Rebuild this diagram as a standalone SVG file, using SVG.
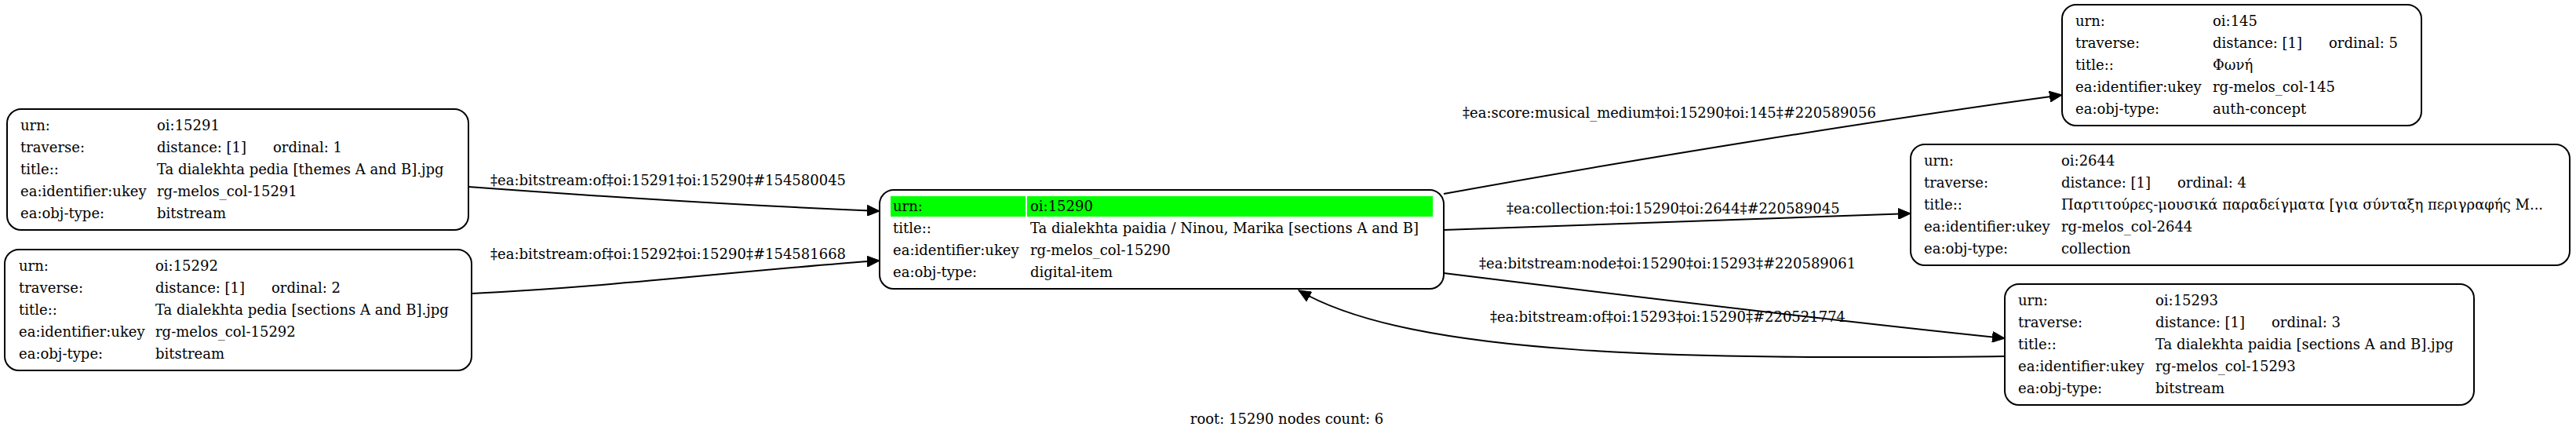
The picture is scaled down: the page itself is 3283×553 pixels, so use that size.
<svg xmlns="http://www.w3.org/2000/svg" width="3283" height="553" viewBox="0 0 3283 553">
<style>
text{font-family:"DejaVu Serif","Liberation Serif",serif;font-size:18px;fill:#000}
.box{fill:#fff;stroke:#000;stroke-width:2}
.edge{fill:none;stroke:#000;stroke-width:2}
.hl{fill:#00ff00}
</style>
<defs>
<marker id="arr" markerUnits="userSpaceOnUse" markerWidth="18" markerHeight="14" refX="16" refY="7" orient="auto">
<path d="M0,0 L16,7 L0,14 Z" fill="#000" stroke="#000" stroke-width="1"/>
</marker>
</defs>
<rect width="3283" height="553" fill="#fff"/>
<g id="edges">
<path class="edge" marker-end="url(#arr)" d="M597,238 C760,250 950,262 1121,269"/>
<text x="625" y="236">‡ea:bitstream:of‡oi:15291‡oi:15290‡#154580045</text>
<path class="edge" marker-end="url(#arr)" d="M601,374 C800,364 950,344 1121,332"/>
<text x="625" y="330">‡ea:bitstream:of‡oi:15292‡oi:15290‡#154581668</text>
<path class="edge" marker-end="url(#arr)" d="M1840,247 C2100,200 2400,152 2628,121"/>
<text x="1864" y="150">‡ea:score:musical_medium‡oi:15290‡oi:145‡#220589056</text>
<path class="edge" marker-end="url(#arr)" d="M1840,293 C2050,285 2250,278 2435,272"/>
<text x="1920" y="272">‡ea:collection:‡oi:15290‡oi:2644‡#220589045</text>
<path class="edge" marker-end="url(#arr)" d="M1840,348 C2100,380 2350,410 2555,431"/>
<text x="1885" y="342">‡ea:bitstream:node‡oi:15290‡oi:15293‡#220589061</text>
<path class="edge" marker-end="url(#arr)" d="M2555,454 C2150,458 1800,455 1655,370"/>
<text x="1899" y="410">‡ea:bitstream:of‡oi:15293‡oi:15290‡#220521774</text>
</g>
<g id="n15291">
<rect class="box" x="9" y="139" width="588" height="154" rx="18"/>
<text x="26" y="166">urn:</text><text x="200" y="166">oi:15291</text>
<text x="26" y="194">traverse:</text><text x="200" y="194">distance: [1]<tspan x="348">ordinal: 1</tspan></text>
<text x="26" y="222">title::</text><text x="200" y="222">Ta dialekhta pedia [themes A and B].jpg</text>
<text x="26" y="250">ea:identifier:ukey</text><text x="200" y="250">rg-melos_col-15291</text>
<text x="26" y="278">ea:obj-type:</text><text x="200" y="278">bitstream</text>
</g>
<g id="n15292">
<rect class="box" x="6" y="318" width="595" height="154" rx="18"/>
<text x="24" y="345">urn:</text><text x="198" y="345">oi:15292</text>
<text x="24" y="373">traverse:</text><text x="198" y="373">distance: [1]<tspan x="346">ordinal: 2</tspan></text>
<text x="24" y="401">title::</text><text x="198" y="401">Ta dialekhta pedia [sections A and B].jpg</text>
<text x="24" y="429">ea:identifier:ukey</text><text x="198" y="429">rg-melos_col-15292</text>
<text x="24" y="457">ea:obj-type:</text><text x="198" y="457">bitstream</text>
</g>
<g id="n15290">
<rect class="box" x="1121" y="242" width="719" height="126" rx="18"/>
<rect class="hl" x="1135" y="250" width="172" height="26"/>
<rect class="hl" x="1309" y="250" width="517" height="26"/>
<text x="1138" y="269">urn:</text><text x="1313" y="269">oi:15290</text>
<text x="1138" y="297">title::</text><text x="1313" y="297">Ta dialekhta paidia / Ninou, Marika [sections A and B]</text>
<text x="1138" y="325">ea:identifier:ukey</text><text x="1313" y="325">rg-melos_col-15290</text>
<text x="1138" y="353">ea:obj-type:</text><text x="1313" y="353">digital-item</text>
</g>
<g id="n145">
<rect class="box" x="2628" y="6" width="458" height="154" rx="18"/>
<text x="2645" y="33">urn:</text><text x="2820" y="33">oi:145</text>
<text x="2645" y="61">traverse:</text><text x="2820" y="61">distance: [1]<tspan x="2968">ordinal: 5</tspan></text>
<text x="2645" y="89">title::</text><text x="2820" y="89">Φωνή</text>
<text x="2645" y="117">ea:identifier:ukey</text><text x="2820" y="117">rg-melos_col-145</text>
<text x="2645" y="145">ea:obj-type:</text><text x="2820" y="145">auth-concept</text>
</g>
<g id="n2644">
<rect class="box" x="2435" y="184" width="840" height="154" rx="18"/>
<text x="2452" y="211">urn:</text><text x="2627" y="211">oi:2644</text>
<text x="2452" y="239">traverse:</text><text x="2627" y="239">distance: [1]<tspan x="2775">ordinal: 4</tspan></text>
<text x="2452" y="267">title::</text><text x="2627" y="267">Παρτιτούρες-μουσικά παραδείγματα [για σύνταξη περιγραφής Μ...</text>
<text x="2452" y="295">ea:identifier:ukey</text><text x="2627" y="295">rg-melos_col-2644</text>
<text x="2452" y="323">ea:obj-type:</text><text x="2627" y="323">collection</text>
</g>
<g id="n15293">
<rect class="box" x="2555" y="362" width="598" height="154" rx="18"/>
<text x="2572" y="389">urn:</text><text x="2747" y="389">oi:15293</text>
<text x="2572" y="417">traverse:</text><text x="2747" y="417">distance: [1]<tspan x="2895">ordinal: 3</tspan></text>
<text x="2572" y="445">title::</text><text x="2747" y="445">Ta dialekhta paidia [sections A and B].jpg</text>
<text x="2572" y="473">ea:identifier:ukey</text><text x="2747" y="473">rg-melos_col-15293</text>
<text x="2572" y="501">ea:obj-type:</text><text x="2747" y="501">bitstream</text>
</g>
<g id="caption">
<text x="1640" y="540" text-anchor="middle">root: 15290 nodes count: 6</text>
</g>
</svg>
